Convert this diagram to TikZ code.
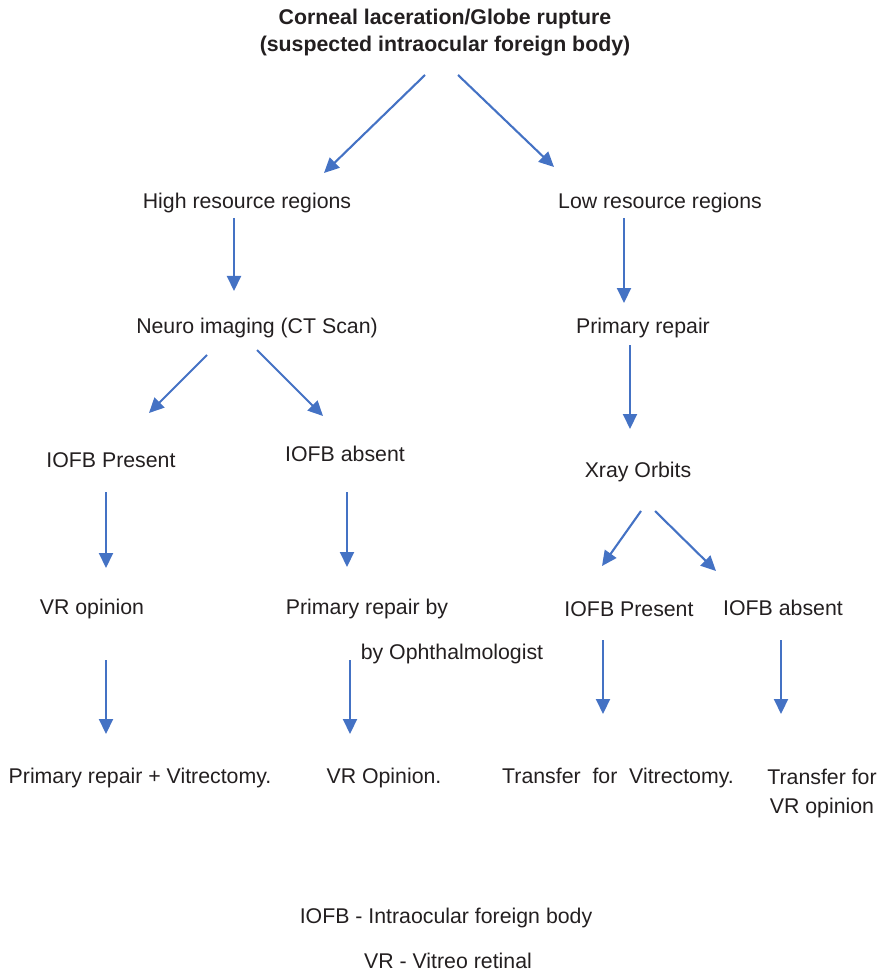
\documentclass[tikz,border=0pt]{standalone}
\usepackage{fontspec}
\setmainfont{Liberation Sans}
\usetikzlibrary{arrows.meta}
\definecolor{arrowblue}{HTML}{4472C4}
\definecolor{txt}{HTML}{231F20}
\tikzset{
  lbl/.style={inner sep=0pt, text=txt, font=\fontsize{21.3}{25}\selectfont, align=center, yshift=-2pt},
  conn/.style={draw=arrowblue, line width=2.1pt, -{Triangle[length=15pt,width=14pt]}}
}
\begin{document}
\begin{tikzpicture}[x=1pt,y=-1pt]
\useasboundingbox (0,0) rectangle (883,973);
% texts
\node[lbl,font=\fontsize{21.3}{27}\selectfont\bfseries] (title) at (445,31) {Corneal laceration/Globe rupture\\(suspected intraocular foreign body)};
\node[lbl] (high) at (247,201) {High resource regions};
\node[lbl] (low) at (660,201) {Low resource regions};
\node[lbl] (neuro) at (257,326) {Neuro imaging (CT Scan)};
\node[lbl] (prim) at (643,326) {Primary repair};
\node[lbl] (iofbpL) at (111,458) {IOFB Present};
\node[lbl] (iofbaL) at (345,452) {IOFB absent};
\node[lbl] (xray) at (638,470) {Xray Orbits};
\node[lbl] (vrop) at (92,607) {VR opinion};
\node[lbl] (primby) at (367,607) {Primary repair by};
\node[lbl] (byoph) at (452,652) {by Ophthalmologist};
\node[lbl] (iofbpR) at (629,607) {IOFB Present};
\node[lbl] (iofbaR) at (783,606) {IOFB absent};
\node[lbl] (primvit) at (140,776) {Primary repair + Vitrectomy.};
\node[lbl] (vrop2) at (384,776) {VR Opinion.};
\node[lbl] (transvit) at (618,776) {Transfer\ \ for\ \ Vitrectomy.};
\node[lbl,font=\fontsize{21.3}{29}\selectfont] (transvr) at (822,791) {Transfer for\\VR opinion};
\node[lbl] (leg1) at (446,916) {IOFB - Intraocular foreign body};
\node[lbl,yshift=0pt] (leg2) at (448,959) {VR - Vitreo retinal};
% connector end points
\coordinate (t1s) at (425,75);  \coordinate (t1e) at (324,173);
\coordinate (t2s) at (458,75);  \coordinate (t2e) at (554,167);
\coordinate (h1s) at (234,218); \coordinate (h1e) at (234,291);
\coordinate (l1s) at (624,218); \coordinate (l1e) at (624,303);
\coordinate (n1s) at (207,355); \coordinate (n1e) at (149,413);
\coordinate (n2s) at (257,350); \coordinate (n2e) at (323,416);
\coordinate (p1s) at (630,345); \coordinate (p1e) at (630,429);
\coordinate (x1s) at (641,511); \coordinate (x1e) at (602,566);
\coordinate (x2s) at (655,511); \coordinate (x2e) at (716,571);
\coordinate (a1s) at (106,492); \coordinate (a1e) at (106,568);
\coordinate (a2s) at (347,492); \coordinate (a2e) at (347,567);
\coordinate (b1s) at (106,660); \coordinate (b1e) at (106,734);
\coordinate (b2s) at (350,660); \coordinate (b2e) at (350,734);
\coordinate (b3s) at (603,640); \coordinate (b3e) at (603,714);
\coordinate (b4s) at (781,640); \coordinate (b4e) at (781,714);
% connectors
\draw[conn] (t1s) -- (t1e);
\draw[conn] (t2s) -- (t2e);
\draw[conn] (h1s) -- (h1e);
\draw[conn] (l1s) -- (l1e);
\draw[conn] (n1s) -- (n1e);
\draw[conn] (n2s) -- (n2e);
\draw[conn] (p1s) -- (p1e);
\draw[conn] (x1s) -- (x1e);
\draw[conn] (x2s) -- (x2e);
\draw[conn] (a1s) -- (a1e);
\draw[conn] (a2s) -- (a2e);
\draw[conn] (b1s) -- (b1e);
\draw[conn] (b2s) -- (b2e);
\draw[conn] (b3s) -- (b3e);
\draw[conn] (b4s) -- (b4e);
\end{tikzpicture}
\end{document}
